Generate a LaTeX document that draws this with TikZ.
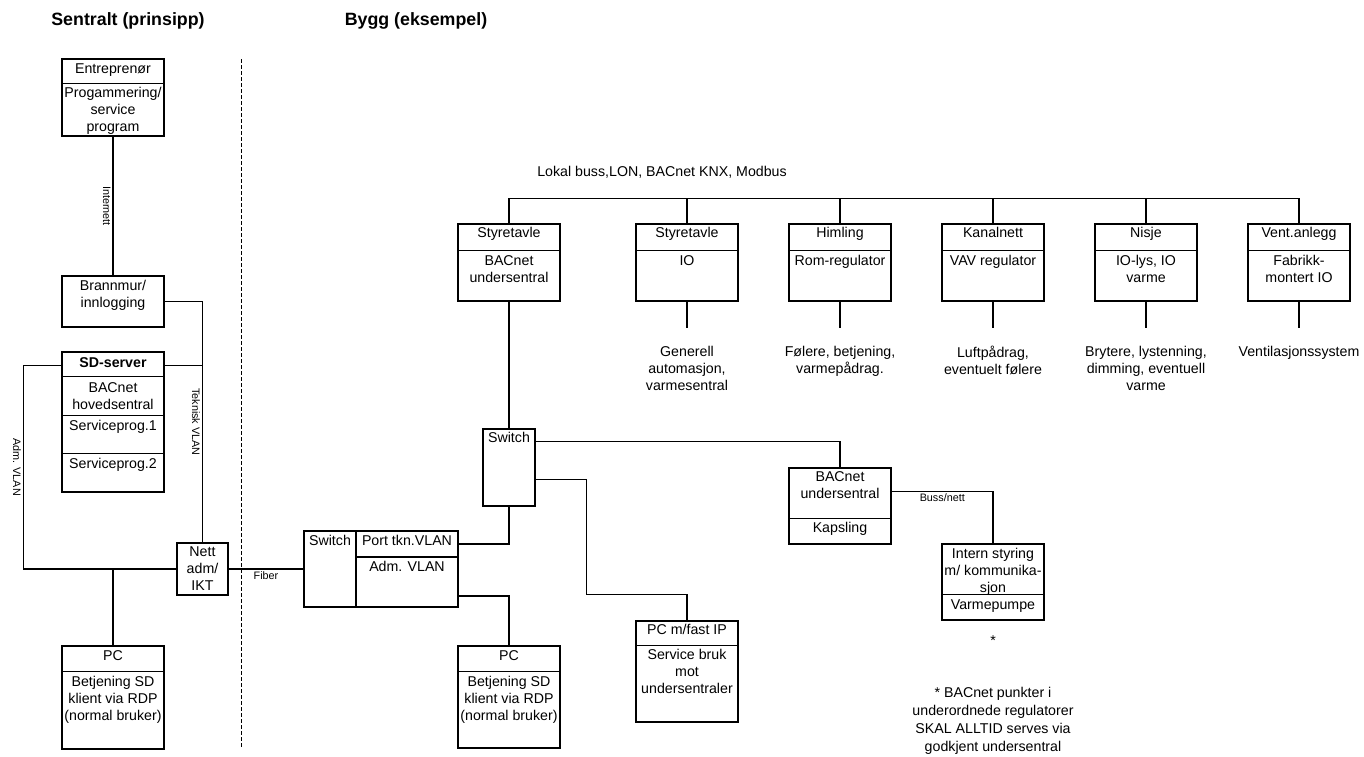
\documentclass[tikz,border=0pt]{standalone}
\usepackage{fontspec}
\setmainfont{Liberation Sans}
\usetikzlibrary{calc}

\tikzset{
  unit/.style={draw, line width=1.1pt, inner sep=0pt, minimum width=102pt},
  txt/.style={inner sep=0pt, anchor=north, align=center, font=\fontsize{14.2}{17}\selectfont},
  lbl/.style={inner sep=2pt, font=\fontsize{10.8}{13}\selectfont},
  wire/.style={line width=1.1pt},
  sep/.style={line width=1.1pt},
}

\begin{document}
\begin{tikzpicture}[x=1pt, y=-1pt]
  \useasboundingbox (0,0) rectangle (1364,756);

  % overskrifter
  \node[txt, font=\bfseries\fontsize{17.8}{21}\selectfont] (t-sentral) at (128,12) {Sentralt (prinsipp)};
  \node[txt, font=\bfseries\fontsize{17.8}{21}\selectfont] (t-bygg) at (416,12) {Bygg (eksempel)};
  \draw[line width=1pt, dash pattern=on 4pt off 2pt] (241,59) -- (241,747);

  % sentralt
  \node[unit, minimum height=77] (ent) at (113,97.5) {};
  \draw[sep] ($(ent.north west)+(0,25)$) -- ($(ent.north east)+(0,25)$);
  \node[txt] (ent-h) at ($(ent.north)+(0,5)$) {Entreprenør};
  \node[txt] (ent-b) at ($(ent.north)+(0,29)$) {Progammering/\\service\\program};

  \node[unit, minimum height=51] (fw) at (113,301.5) {};
  \node[txt] (fw-t) at ($(fw.north)+(0,5)$) {Brannmur/\\innlogging};

  \node[unit, minimum height=140] (sd) at (113,422) {};
  \foreach \dy in {25,64,102}
    \draw[sep] ($(sd.north west)+(0,\dy)$) -- ($(sd.north east)+(0,\dy)$);
  \node[txt, font=\bfseries\fontsize{14.2}{17}\selectfont] (sd-h) at ($(sd.north)+(0,6)$) {SD-server};
  \node[txt] (sd-b) at ($(sd.north)+(0,31)$) {BACnet\\hovedsentral};
  \node[txt] (sd-s1) at ($(sd.north)+(0,69)$) {Serviceprog.1};
  \node[txt] (sd-s2) at ($(sd.north)+(0,107)$) {Serviceprog.2};

  \node[unit, minimum width=51, minimum height=52] (nett) at (202.5,569) {};
  \node[txt] (nett-t) at ($(nett.north)+(0,4)$) {Nett\\adm/\\IKT};

  \node[unit, minimum height=103] (pc1) at (113,697.5) {};
  \draw[sep] ($(pc1.north west)+(0,26)$) -- ($(pc1.north east)+(0,26)$);
  \node[txt] (pc1-h) at ($(pc1.north)+(0,5)$) {PC};
  \node[txt] (pc1-b) at ($(pc1.north)+(0,31)$) {Betjening SD\\klient via RDP\\(normal bruker)};

  \draw[wire] (ent.south) -- node[lbl, rotate=-90, anchor=north] (l-inet) {Internett} (fw.north);
  \draw[wire] (fw.east) -| node[lbl, pos=0.75, rotate=-90, anchor=north] (l-tvlan) {Teknisk VLAN} (nett.north);
  \coordinate (sd-r) at ($(sd.north east)+(0,14)$);
  \draw[wire] (sd-r) -- (sd-r -| nett.north);
  \coordinate (sd-l) at ($(sd.north west)+(0,14)$);
  \draw[wire] (sd-l) -- ++(-38,0) |- node[lbl, pos=0.25, rotate=-90, anchor=north] (l-avlan) {Adm. VLAN} (nett.west);
  \draw[wire] (pc1.north) -- (pc1.north |- nett.west);

  % bygg
  \node[unit, minimum width=52, minimum height=76] (swl) at (330,569) {};
  \node[unit, minimum height=26] (port) at (407,544) {};
  \node[unit, minimum height=50] (adm) at (407,582) {};
  \node[txt] (swl-t) at ($(swl.north)+(0,5)$) {Switch};
  \node[txt] (port-t) at ($(port.north)+(0,5)$) {Port tkn.VLAN};
  \node[txt] (adm-t) at ($(adm.north)+(0,5)$) {Adm. VLAN};
  \draw[wire] (nett.east) -- node[lbl, below] (l-fiber) {Fiber} (swl.west);

  \node[unit, minimum width=52, minimum height=77] (sw2) at (509,467.5) {};
  \node[txt] (sw2-t) at ($(sw2.north)+(0,4)$) {Switch};

  \node[unit, minimum height=102] (pc2) at (509,697) {};
  \draw[sep] ($(pc2.north west)+(0,26)$) -- ($(pc2.north east)+(0,26)$);
  \node[txt] (pc2-h) at ($(pc2.north)+(0,5)$) {PC};
  \node[txt] (pc2-b) at ($(pc2.north)+(0,31)$) {Betjening SD\\klient via RDP\\(normal bruker)};

  \node[unit, minimum height=101] (pcip) at (687,671.5) {};
  \draw[sep] ($(pcip.north west)+(0,25)$) -- ($(pcip.north east)+(0,25)$);
  \node[txt] (pcip-h) at ($(pcip.north)+(0,4)$) {PC m/fast IP};
  \node[txt] (pcip-b) at ($(pcip.north)+(0,29)$) {Service bruk\\mot\\undersentraler};

  \node[unit, minimum height=76] (bus) at (840,506) {};
  \draw[sep] ($(bus.north west)+(0,51)$) -- ($(bus.north east)+(0,51)$);
  \node[txt] (bus-h) at ($(bus.north)+(0,4)$) {BACnet\\undersentral};
  \node[txt] (bus-b) at ($(bus.north)+(0,55)$) {Kapsling};

  \node[unit, minimum height=76] (hp) at (993,582) {};
  \draw[sep] ($(hp.north west)+(0,51)$) -- ($(hp.north east)+(0,51)$);
  \node[txt] (hp-h) at ($(hp.north)+(0,5)$) {Intern styring\\m/ kommunika-\\sjon};
  \node[txt] (hp-b) at ($(hp.north)+(0,56)$) {Varmepumpe};

  % lokal buss
  \foreach \nm/\cx/\head/\body in {sty/509/Styretavle/{BACnet\\undersentral}, io/687/Styretavle/IO,
      rom/840/Himling/Rom-regulator, vav/993/Kanalnett/VAV regulator,
      nis/1146/Nisje/{IO-lys, IO\\varme}, vent/1299/Vent.anlegg/{Fabrikk-\\montert IO}} {
    \node[unit, minimum height=77] (\nm) at (\cx,262.5) {};
    \draw[sep] ($(\nm.north west)+(0,27)$) -- ($(\nm.north east)+(0,27)$);
    \node[txt] (\nm-h) at ($(\nm.north)+(0,4)$) {\head};
    \node[txt] (\nm-b) at ($(\nm.north)+(0,32)$) {\body};
  }
  \foreach \nm/\note in {io/{Generell\\automasjon,\\varmesentral}, rom/{Følere, betjening,\\varmepådrag.},
      vav/{Luftpådrag,\\eventuelt følere}, nis/{Brytere, lystenning,\\dimming, eventuell\\varme},
      vent/Ventilasjonssystem} {
    \coordinate (\nm-e) at ($(\nm.south)+(0,26)$);
    \draw[wire] (\nm.south) -- (\nm-e);
    \node[txt] (\nm-n) at ($(\nm.south)+(0,44)$) {\note};
  }
  \coordinate (lb-l) at ($(sty.north)+(0,-25)$);
  \coordinate (lb-r) at ($(vent.north)+(0,-25)$);
  \draw[wire] (lb-l) -- (lb-r);
  \foreach \nm in {sty,io,rom,vav,nis,vent}
    \draw[wire] (\nm.north) -- (\nm.north |- lb-l);
  \node[txt] (lb-t) at (662,166) {Lokal buss,LON, BACnet KNX, Modbus};

  % koblinger i bygg
  \draw[wire] (sw2.north) -- (sty.south);
  \draw[wire] (port.east) -| (sw2.south);
  \coordinate (adm-r) at ($(adm.east)+(0,14)$);
  \draw[wire] (adm-r) -| (pc2.north);
  \coordinate (sw2-a) at ($(sw2.north east)+(0,13)$);
  \draw[wire] (sw2-a) -| (bus.north);
  \coordinate (sw2-b) at ($(sw2.north east)+(0,51)$);
  \draw[wire] (sw2-b) -- ++(51,0) -- ++(0,115) -| (pcip.north);
  \coordinate (bus-r) at ($(bus.north east)+(0,24)$);
  \draw[wire] (bus-r) -| node[lbl, pos=0.25, below] (l-buss) {Buss/nett} (hp.north);

  % fotnote
  \node[txt] (star) at (993,636) {*};
  \node[txt, font=\fontsize{14.2}{18}\selectfont] (fn) at (993,687)
    {* BACnet punkter i\\underordnede regulatorer\\SKAL ALLTID serves via\\godkjent undersentral};
\end{tikzpicture}
\end{document}
